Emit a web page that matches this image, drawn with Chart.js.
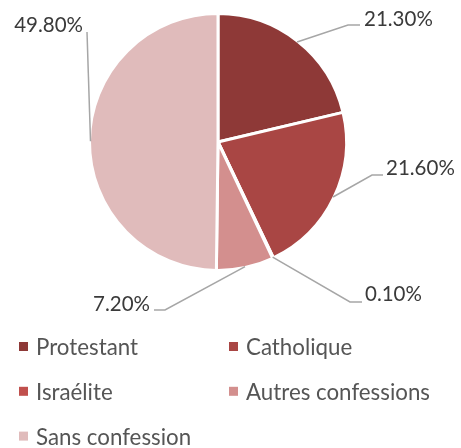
<!DOCTYPE html>
<html>
<head>
<meta charset="utf-8">
<script src="https://cdn.jsdelivr.net/npm/chart.js@4"></script>
<style>
  html, body { margin: 0; padding: 0; background: #fff; }
  #wrap { width: 461px; height: 448px; position: relative; }
</style>
</head>
<body>
<div id="wrap"><canvas id="pie" width="461" height="448"></canvas></div>
<script>
const labels = ['Protestant', 'Catholique', 'Israélite', 'Autres confessions', 'Sans confession'];
const shares = [21.3, 21.6, 0.1, 7.2, 49.8];
const valueLabels = ['21.30%', '21.60%', '0.10%', '7.20%', '49.80%'];
const colors = ['#8e3937', '#a94644', '#c0504d', '#d38f8e', '#e0bbbb'];

// where each leader line bends, where it ends, and where its text sits
const calloutLayout = [
  { elbow: [348, 25], end: [360, 25], text: [364, 19], align: 'left' },
  { elbow: [372, 175], end: [383, 175], text: [386, 168], align: 'left' },
  { elbow: [350, 302], end: [362, 302], text: [365, 294], align: 'left' },
  { elbow: [165, 310], end: [154, 310], text: [150, 304], align: 'right' },
  { elbow: [87, 32], end: [87, 32], text: [83, 25], align: 'right' }
];

const FONT = 'Lato, "Open Sans", sans-serif';

const callouts = {
  id: 'callouts',
  afterDatasetsDraw(chart) {
    const ctx = chart.ctx;
    const arcs = chart.getDatasetMeta(0).data;
    ctx.save();
    arcs.forEach((arc, i) => {
      const mid = (arc.startAngle + arc.endAngle) / 2;
      const r = arc.outerRadius - 1;
      const sx = arc.x + Math.cos(mid) * r;
      const sy = arc.y + Math.sin(mid) * r;
      const L = calloutLayout[i];
      ctx.strokeStyle = '#a6a6a6';
      ctx.lineWidth = 1.5;
      ctx.beginPath();
      ctx.moveTo(sx, sy);
      ctx.lineTo(L.elbow[0], L.elbow[1]);
      ctx.lineTo(L.end[0], L.end[1]);
      ctx.stroke();
      ctx.fillStyle = '#3a3a3a';
      ctx.font = '20.5px ' + FONT;
      ctx.textAlign = L.align;
      ctx.textBaseline = 'middle';
      ctx.fillText(valueLabels[i], L.text[0], L.text[1]);
    });

    // two-column legend under the pie
    ctx.font = '22.3px ' + FONT;
    ctx.textAlign = 'left';
    ctx.textBaseline = 'alphabetic';
    labels.forEach((name, i) => {
      const col = i % 2, row = Math.floor(i / 2);
      const x = col === 0 ? 19 : 229;
      const y = 342 + row * 44.8;
      ctx.fillStyle = colors[i];
      ctx.fillRect(x, y, 9, 9);
      ctx.fillStyle = '#555555';
      ctx.fillText(name, x + 17, y + 13);
    });
    ctx.restore();
  }
};

new Chart(document.getElementById('pie'), {
  type: 'pie',
  data: {
    labels: labels,
    datasets: [{
      data: shares,
      backgroundColor: colors,
      borderColor: '#ffffff',
      borderWidth: 3
    }]
  },
  options: {
    responsive: false,
    animation: false,
    rotation: 0,
    layout: { padding: { left: 88, right: 113, top: 12, bottom: 176 } },
    plugins: {
      legend: { display: false },
      tooltip: { enabled: false }
    }
  },
  plugins: [callouts]
});
</script>
</body>
</html>
